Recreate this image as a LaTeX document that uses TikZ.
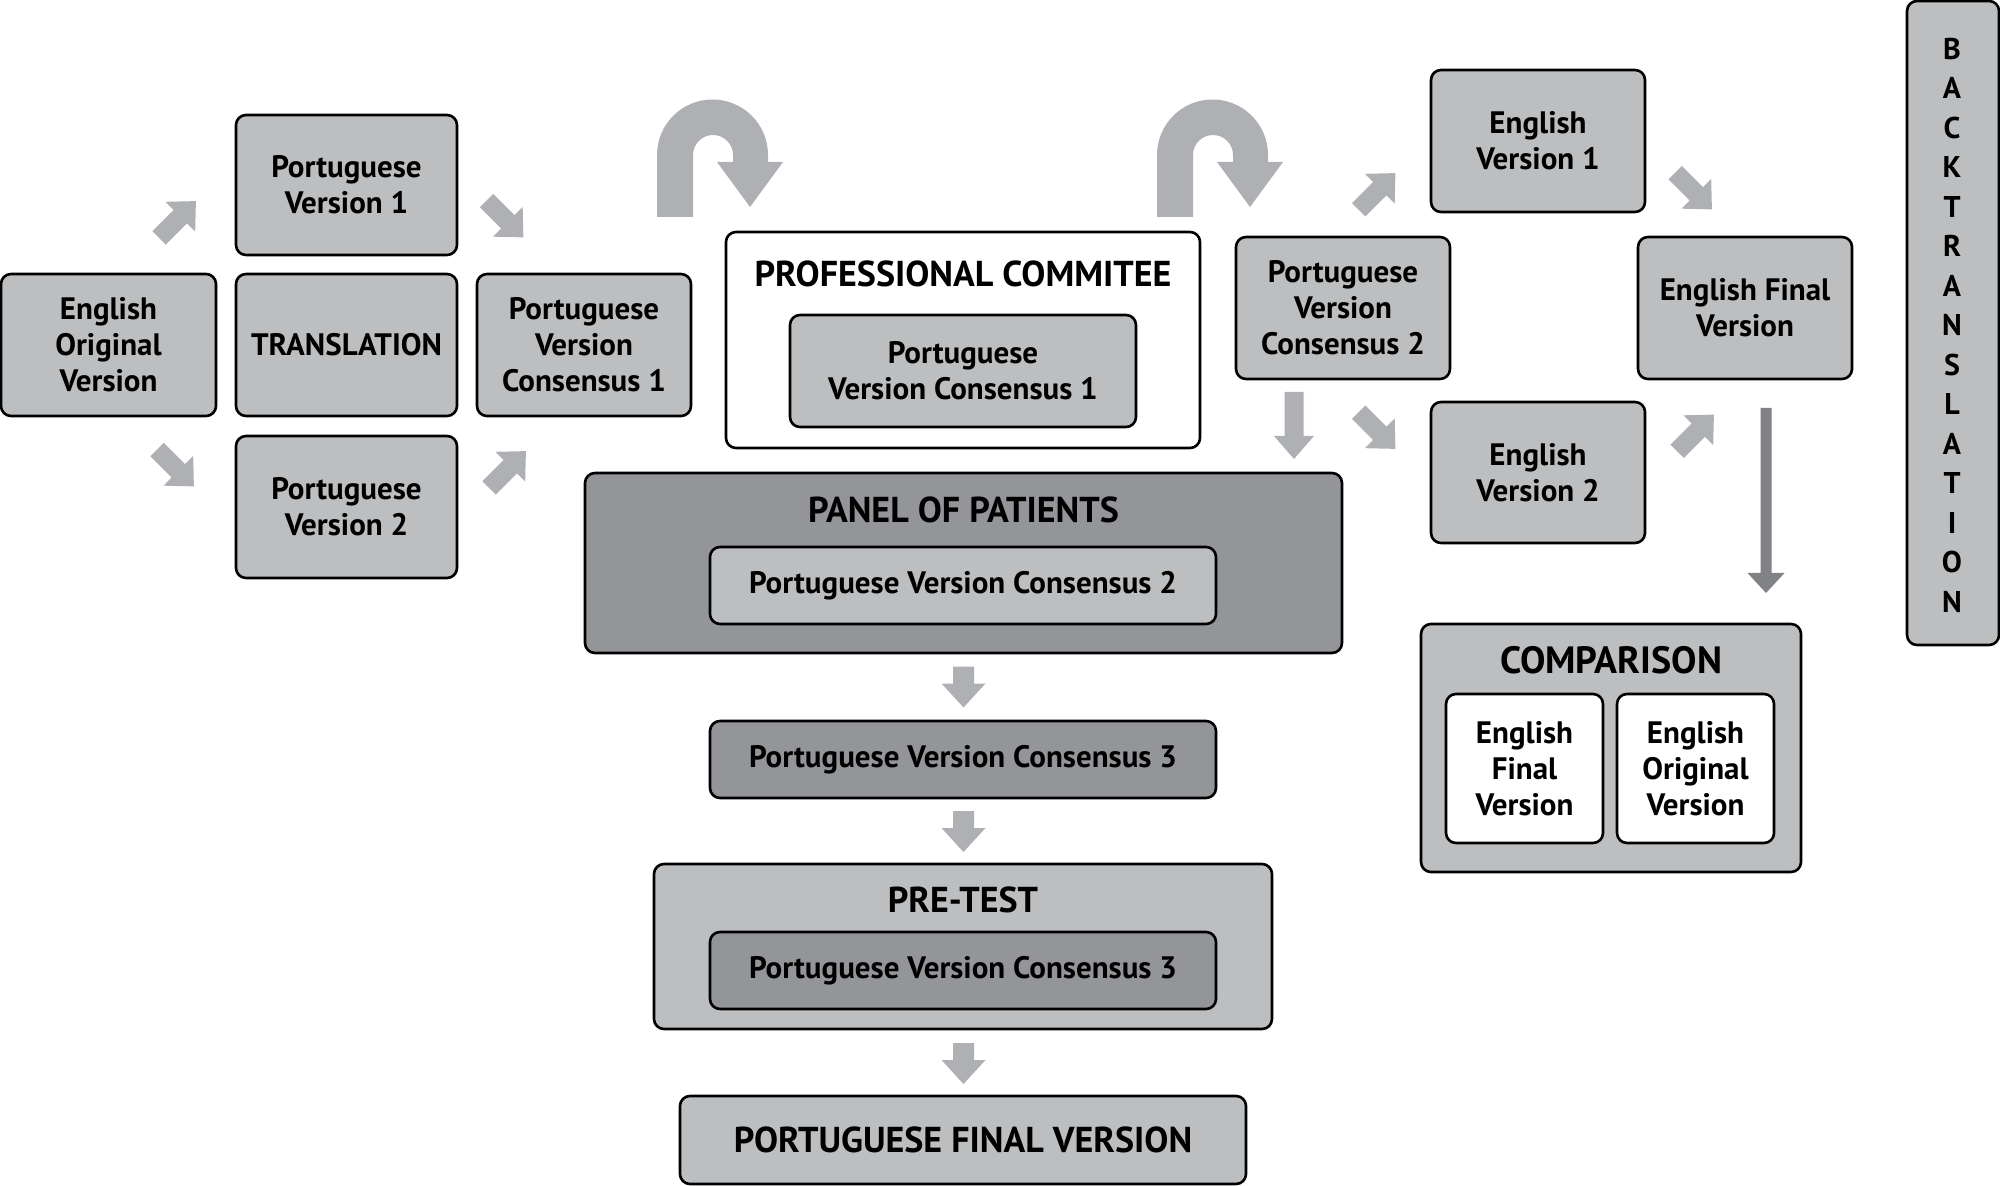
\documentclass[tikz,border=0pt]{standalone}
\usepackage{fontspec}
\setmainfont{PT Sans}
\definecolor{lightg}{HTML}{BCBEC0}
\definecolor{darkg}{HTML}{939598}
\definecolor{arrg}{HTML}{AEB0B3}
\definecolor{arrdark}{HTML}{808285}
\newcommand\mybox[7]{\node[#2, minimum width={(#5-#3)*0.5pt}, minimum height={(#6-#4)*0.5pt}] (#1) at ({(#3+#5)/2},{(#4+#6)/2}) {#7};}
\newcommand\blockarr[8]{\fill[#8, shift={(#1,#2)}, rotate=#3] ({-#4/2},{-#5/2}) -- ({#4/2-#7},{-#5/2}) -- ({#4/2-#7},{-#6/2}) -- ({#4/2},0) -- ({#4/2-#7},{#6/2}) -- ({#4/2-#7},{#5/2}) -- ({-#4/2},{#5/2}) -- cycle;}
\newcommand\uturn[1]{\fill[arrg, shift={(#1,0)}] (657,217) -- (657,155) arc[start angle=180, end angle=360, radius=55.5] -- (768,162) -- (783,162) -- (750,207) -- (717,162) -- (733,162) -- (733,155) arc[start angle=360, end angle=180, radius=20] -- (693,217) -- cycle;}
\begin{document}
\begin{tikzpicture}[x=0.5pt,y=-0.5pt,
  box/.style={draw=black, line width=1.3pt, rounded corners=5pt, fill=lightg, inner sep=0pt, align=center, font=\bfseries\fontsize{15.5}{18}\selectfont},
  darkbox/.style={box, fill=darkg},
  whitebox/.style={box, fill=white},
  title/.style={inner sep=0pt, font=\bfseries\fontsize{18}{20}\selectfont}]
\useasboundingbox (0,0) rectangle (2000,1186);
% translation part
\mybox{eov}{box}{1}{274}{216}{416}{English\\Original\\Version}
\mybox{pv1}{box}{236}{115}{457}{255}{Portuguese\\Version 1}
\mybox{trans}{box}{236}{274}{457}{416}{TRANSLATION}
\mybox{pv2}{box}{236}{436}{457}{578}{Portuguese\\Version 2}
\mybox{pvc1}{box}{477}{274}{691}{416}{Portuguese\\Version\\Consensus 1}
\blockarr{177.5}{219.5}{45}{52}{19}{42}{22}{arrg}
\blockarr{505}{219}{-45}{52}{19}{42}{22}{arrg}
\blockarr{175.5}{468}{-45}{52}{19}{42}{22}{arrg}
\blockarr{507.5}{469.5}{45}{52}{19}{42}{22}{arrg}
% U-turns
\uturn{0}
\uturn{500}
% professional committee
\mybox{pc}{whitebox}{726}{232}{1200}{448}{}
\node[title] (pct) at (963,274) {PROFESSIONAL COMMITEE};
\mybox{pcin}{box}{790}{315}{1136}{427}{Portuguese\\Version Consensus 1}
% back translation
\mybox{pvc2}{box}{1236}{237}{1450}{379}{Portuguese\\Version\\Consensus 2}
\mybox{ev1}{box}{1431}{70}{1645}{212}{English\\Version 1}
\mybox{ev2}{box}{1431}{402}{1645}{543}{English\\Version 2}
\mybox{efv}{box}{1638}{237}{1852}{379}{English Final\\Version}
\blockarr{1294}{425.5}{-90}{67}{19}{40}{23}{arrg}
\blockarr{1377}{430.5}{-45}{52}{19}{42}{22}{arrg}
\blockarr{1377}{191.5}{45}{52}{19}{42}{22}{arrg}
\blockarr{1693.5}{191}{-45}{52}{19}{42}{22}{arrg}
\blockarr{1695.5}{433}{45}{52}{19}{42}{22}{arrg}
\blockarr{1766}{500.5}{-90}{185}{11}{37}{20}{arrdark}
\mybox{back}{box}{1907}{1}{1999}{645}{}
\node[inner sep=0pt, align=center, font=\bfseries\fontsize{15}{19.75}\selectfont] (backt) at (1952,325) {B\\A\\C\\K\\T\\R\\A\\N\\S\\L\\A\\T\\I\\O\\N};
% panel of patients
\mybox{panel}{darkbox}{585}{473}{1342}{653}{}
\node[title] (panelt) at (963.5,510) {PANEL OF PATIENTS};
\mybox{pvc2b}{box}{710}{547}{1216}{624}{Portuguese Version Consensus 2}
\blockarr{963.5}{687}{-90}{41}{21}{44}{24}{arrg}
\mybox{pvc3}{darkbox}{710}{721}{1216}{798}{Portuguese Version Consensus 3}
\blockarr{963.5}{831.5}{-90}{41}{21}{44}{24}{arrg}
\mybox{pre}{box}{654}{864}{1272}{1029}{}
\node[title] (pret) at (963,900) {PRE-TEST};
\mybox{pvc3b}{darkbox}{710}{932}{1216}{1009}{Portuguese Version Consensus 3}
\blockarr{963.5}{1063.5}{-90}{41}{21}{44}{24}{arrg}
\mybox{final}{box}{680}{1096}{1246}{1184}{\fontsize{18}{20}\selectfont PORTUGUESE FINAL VERSION}
% comparison
\mybox{comp}{box}{1421}{624}{1801}{872}{}
\node[title, font=\bfseries\fontsize{19}{20}\selectfont] (compt) at (1611,660) {COMPARISON};
\mybox{cefv}{whitebox}{1446}{694}{1603}{843}{English\\Final\\Version}
\mybox{ceov}{whitebox}{1617}{694}{1774}{843}{English\\Original\\Version}
\end{tikzpicture}
\end{document}
